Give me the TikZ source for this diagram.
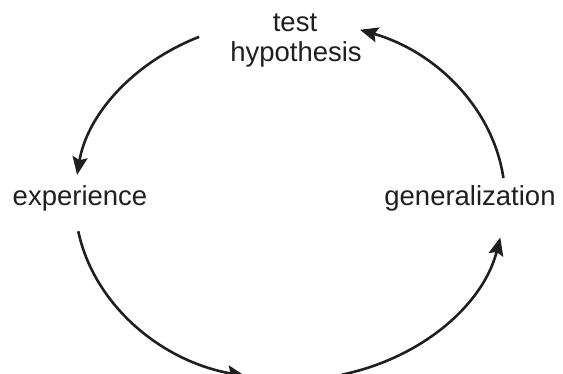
\documentclass[tikz,border=0pt]{standalone}
\usepackage{fontspec}
\setmainfont{Liberation Sans}
\usetikzlibrary{arrows.meta}
\begin{document}
\begin{tikzpicture}[x=1pt,y=1pt,
  lbl/.style={inner sep=0pt, anchor=base, text=black!88, font=\fontsize{27.5}{33}\selectfont},
  cyc/.style={line width=2.6pt, draw=black!88, -{Stealth[length=18pt,width=15pt,inset=3pt]}}]
\useasboundingbox (0,0) rectangle (563,374);
\coordinate (O) at (290,174);
\node[lbl] (test) at (295,342) {test};
\node[lbl] (hyp) at (296,312) {hypothesis};
\node[lbl] (exp) at (80,168) {experience};
\node[lbl] (gen) at (470,168) {generalization};
% test hypothesis -> experience
\draw[cyc] ([shift={(115:215 and 180)}]O) arc[start angle=115, end angle=172, x radius=215, y radius=180];
% experience -> (bottom)
\draw[cyc] ([shift={(190:215 and 180)}]O) arc[start angle=190, end angle=258, x radius=215, y radius=180];
% (bottom) -> generalization
\draw[cyc] ([shift={(284:215 and 180)}]O) arc[start angle=284, end angle=348, x radius=215, y radius=180];
% generalization -> test hypothesis
\draw[cyc] ([shift={(7:215 and 180)}]O) arc[start angle=7, end angle=71, x radius=215, y radius=180];
\end{tikzpicture}
\end{document}
